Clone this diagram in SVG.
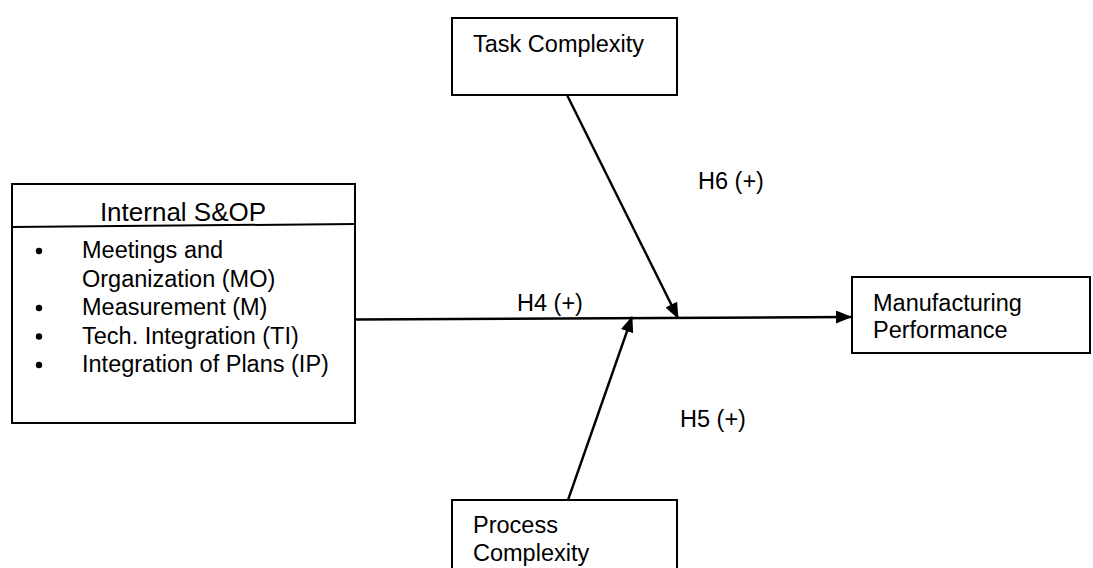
<svg xmlns="http://www.w3.org/2000/svg" width="1093" height="568" viewBox="0 0 1093 568">
<style>
.box{fill:#fff;stroke:#000;stroke-width:2}
.t{font-family:"Liberation Sans",Arial,sans-serif;font-size:23.5px;fill:#000}
.c{stroke:#000;stroke-width:2.4;fill:none}
</style>
<defs>
<marker id="ah" markerWidth="16" markerHeight="13" refX="15" refY="6.5" orient="auto" markerUnits="userSpaceOnUse">
<path d="M0,0 L16,6.5 L0,13 Z" fill="#000"/>
</marker>
</defs>
<rect width="1093" height="568" fill="#fff"/>
<g id="internal-sop">
<rect class="box" x="12" y="184" width="343" height="239"/>
<line x1="12" y1="227" x2="355" y2="224" stroke="#000" stroke-width="2"/>
<text class="t" x="183" y="221" text-anchor="middle" style="font-size:26px">Internal S&amp;OP</text>
<circle cx="39" cy="251" r="3.2"/>
<text class="t" x="82" y="258">Meetings and</text>
<text class="t" x="82" y="286.5">Organization (MO)</text>
<circle cx="39" cy="308" r="3.2"/>
<text class="t" x="82" y="315">Measurement (M)</text>
<circle cx="39" cy="336.5" r="3.2"/>
<text class="t" x="82" y="343.5">Tech. Integration (TI)</text>
<circle cx="39" cy="365" r="3.2"/>
<text class="t" x="82" y="372">Integration of Plans (IP)</text>
</g>
<g id="task-complexity">
<rect class="box" x="452" y="18" width="225" height="77"/>
<text class="t" x="473" y="52">Task Complexity</text>
</g>
<g id="manufacturing-performance">
<rect class="box" x="852" y="277" width="238" height="76"/>
<text class="t" x="873" y="311">Manufacturing</text>
<text class="t" x="873" y="338">Performance</text>
</g>
<g id="process-complexity">
<rect class="box" x="452" y="500" width="225" height="80"/>
<text class="t" x="473" y="533">Process</text>
<text class="t" x="473" y="561">Complexity</text>
</g>
<g id="connectors">
<line class="c" x1="355" y1="319.5" x2="851" y2="317" marker-end="url(#ah)"/>
<line class="c" x1="567" y1="95" x2="678" y2="318" marker-end="url(#ah)"/>
<line class="c" x1="568" y1="500" x2="632" y2="317" marker-end="url(#ah)"/>
</g>
<g id="labels">
<text class="t" x="698" y="189">H6 (+)</text>
<text class="t" x="517" y="311">H4 (+)</text>
<text class="t" x="680" y="427">H5 (+)</text>
</g>
</svg>
